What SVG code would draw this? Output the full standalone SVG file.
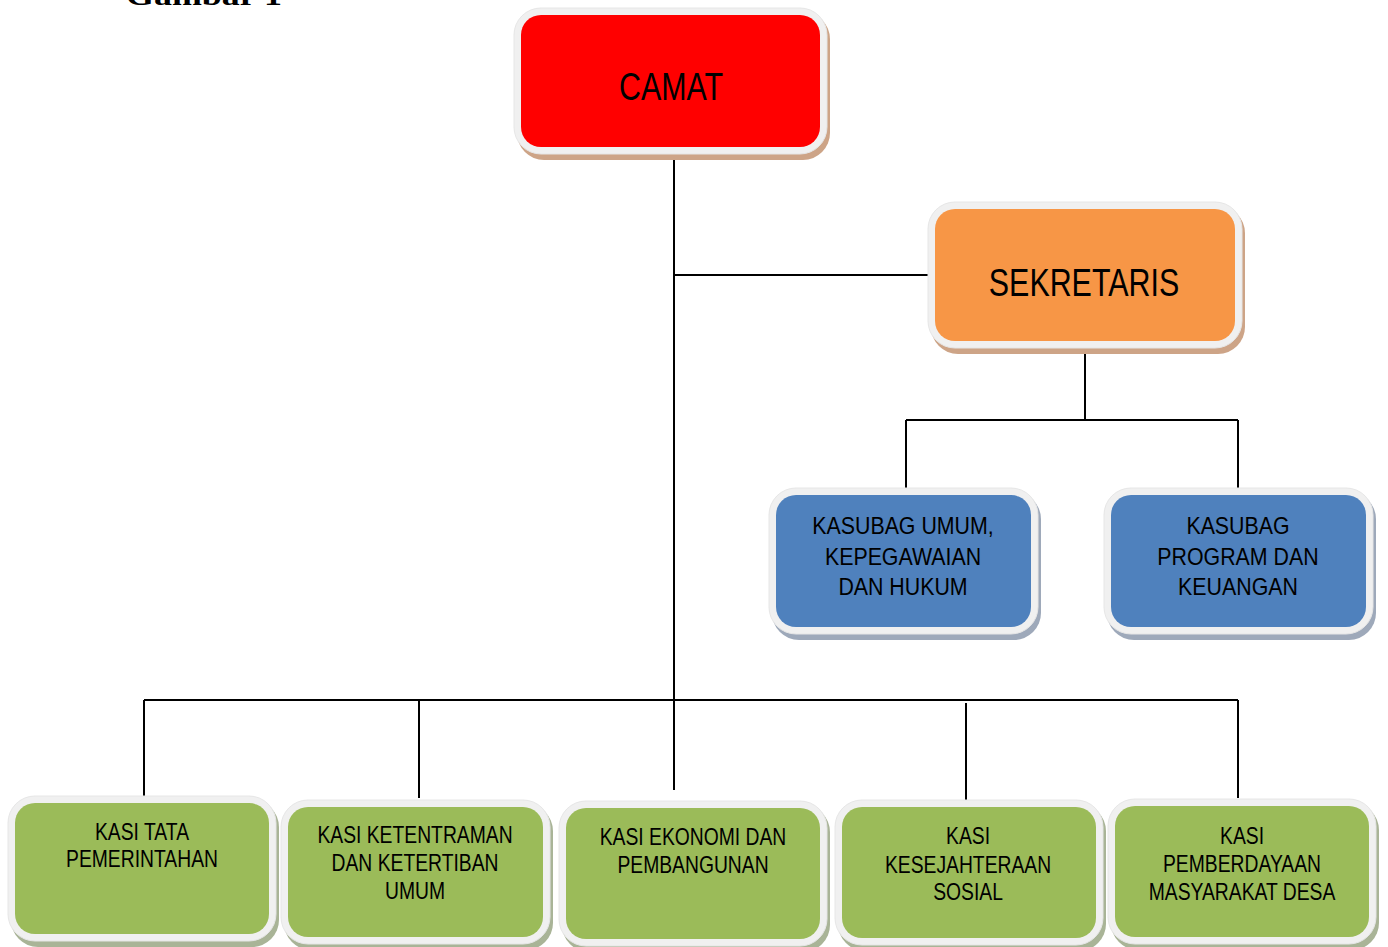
<svg xmlns="http://www.w3.org/2000/svg" width="1388" height="947" viewBox="0 0 1388 947">
<style>
.bg{fill:#ffffff}
.frame{fill:#f0f0f0;stroke:#e6e6e6;stroke-width:1}
.sh-warm{fill:#cda487}
.sh-blue{fill:#9ea9ba}
.sh-green{fill:#a9b497}
.red{fill:#ff0000}
.orange{fill:#f79646}
.blue{fill:#4f81bd}
.green{fill:#9bbb59}
.conn{fill:none;stroke:#000000;stroke-width:2}
text{font-family:"Liberation Sans",Arial,sans-serif;fill:#000000;text-anchor:middle}
.big{font-size:38px}
.mid{font-size:24px}
.small{font-size:23px}
.title{font-family:"Liberation Serif","DejaVu Serif",serif;font-weight:bold;font-size:28px;text-anchor:start}
</style>
<rect class="bg" x="0" y="0" width="1388" height="947"/>
<text class="title" x="126" y="5" textLength="156" lengthAdjust="spacingAndGlyphs">Gambar 1</text>
<g id="connectors">
<path class="conn" d="M674 155 V790"/>
<path class="conn" d="M674 275 H933"/>
<path class="conn" d="M1085 346 V420"/>
<path class="conn" d="M906 420 H1238"/>
<path class="conn" d="M906 420 V492"/>
<path class="conn" d="M1238 420 V492"/>
<path class="conn" d="M144 700 H1238"/>
<path class="conn" d="M144 700 V797"/>
<path class="conn" d="M419 700 V798"/>
<path class="conn" d="M966 703 V800"/>
<path class="conn" d="M1238 700 V798"/>
</g>
<g id="camat">
<rect class="sh-warm" x="517" y="12" width="313" height="148" rx="27"/>
<rect class="frame" x="514" y="8" width="313" height="146" rx="27"/>
<rect class="red" x="521" y="15" width="299" height="132" rx="20"/>
<g transform="translate(671,0) scale(0.8,1)"><text class="big" x="0" y="100">CAMAT</text></g>
</g>
<g id="sekretaris">
<rect class="sh-warm" x="931" y="206" width="314" height="148" rx="27"/>
<rect class="frame" x="928" y="202" width="314" height="146" rx="27"/>
<rect class="orange" x="935" y="209" width="300" height="132" rx="20"/>
<g transform="translate(1084,0) scale(0.8,1)"><text class="big" x="0" y="296">SEKRETARIS</text></g>
</g>
<g id="kasubag-umum">
<rect class="sh-blue" x="772" y="492" width="269" height="148" rx="27"/>
<rect class="frame" x="769" y="488" width="269" height="146" rx="27"/>
<rect class="blue" x="776" y="495" width="255" height="132" rx="20"/>
<g transform="translate(903,0) scale(0.89,1)">
<text class="mid" x="0" y="534">KASUBAG UMUM,</text>
<text class="mid" x="0" y="565">KEPEGAWAIAN</text>
<text class="mid" x="0" y="595">DAN HUKUM</text>
</g>
</g>
<g id="kasubag-program">
<rect class="sh-blue" x="1107" y="492" width="269" height="148" rx="27"/>
<rect class="frame" x="1104" y="488" width="269" height="146" rx="27"/>
<rect class="blue" x="1111" y="495" width="255" height="132" rx="20"/>
<g transform="translate(1238,0) scale(0.89,1)">
<text class="mid" x="0" y="534">KASUBAG</text>
<text class="mid" x="0" y="565">PROGRAM DAN</text>
<text class="mid" x="0" y="595">KEUANGAN</text>
</g>
</g>
<g id="kasi-tata">
<rect class="sh-green" x="11" y="800" width="268" height="147" rx="27"/>
<rect class="frame" x="8" y="796" width="268" height="145" rx="27"/>
<rect class="green" x="15" y="803" width="254" height="131" rx="20"/>
<g transform="translate(142,0) scale(0.84,1)">
<text class="small" x="0" y="840">KASI TATA</text>
<text class="small" x="0" y="867">PEMERINTAHAN</text>
</g>
</g>
<g id="kasi-ketentraman">
<rect class="sh-green" x="284" y="804" width="269" height="146" rx="27"/>
<rect class="frame" x="281" y="800" width="269" height="144" rx="27"/>
<rect class="green" x="288" y="807" width="255" height="130" rx="20"/>
<g transform="translate(415,0) scale(0.84,1)">
<text class="small" x="0" y="843">KASI KETENTRAMAN</text>
<text class="small" x="0" y="871">DAN KETERTIBAN</text>
<text class="small" x="0" y="899">UMUM</text>
</g>
</g>
<g id="kasi-ekonomi">
<rect class="sh-green" x="562" y="805" width="268" height="147" rx="27"/>
<rect class="frame" x="559" y="801" width="268" height="145" rx="27"/>
<rect class="green" x="566" y="808" width="254" height="131" rx="20"/>
<g transform="translate(693,0) scale(0.84,1)">
<text class="small" x="0" y="845">KASI EKONOMI DAN</text>
<text class="small" x="0" y="873">PEMBANGUNAN</text>
</g>
</g>
<g id="kasi-kesejahteraan">
<rect class="sh-green" x="838" y="804" width="268" height="147" rx="27"/>
<rect class="frame" x="835" y="800" width="268" height="145" rx="27"/>
<rect class="green" x="842" y="807" width="254" height="131" rx="20"/>
<g transform="translate(968,0) scale(0.84,1)">
<text class="small" x="0" y="844">KASI</text>
<text class="small" x="0" y="873">KESEJAHTERAAN</text>
<text class="small" x="0" y="900">SOSIAL</text>
</g>
</g>
<g id="kasi-pemberdayaan">
<rect class="sh-green" x="1111" y="803" width="268" height="147" rx="27"/>
<rect class="frame" x="1108" y="799" width="268" height="145" rx="27"/>
<rect class="green" x="1115" y="806" width="254" height="131" rx="20"/>
<g transform="translate(1242,0) scale(0.84,1)">
<text class="small" x="0" y="844">KASI</text>
<text class="small" x="0" y="872">PEMBERDAYAAN</text>
<text class="small" x="0" y="900">MASYARAKAT DESA</text>
</g>
</g>
</svg>
